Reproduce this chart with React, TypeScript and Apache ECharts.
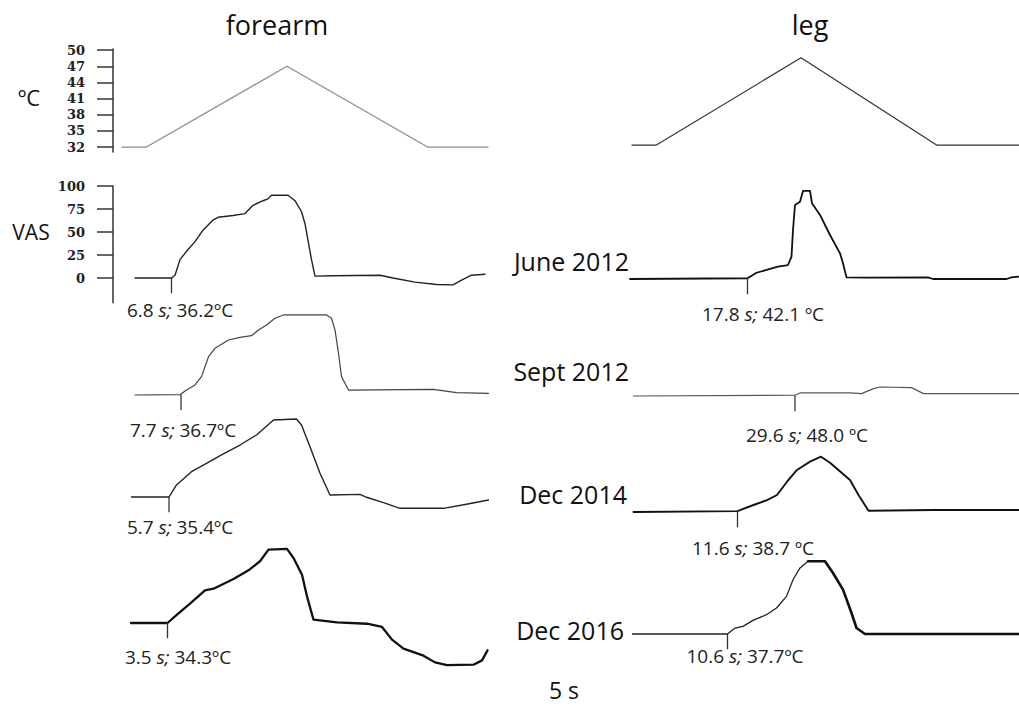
import React, { useEffect, useRef } from 'react';
import * as echarts from 'echarts';

// ---- data -------------------------------------------------------------
const sessions = ['June 2012', 'Sept 2012', 'Dec 2014', 'Dec 2016'];

// Thermode protocol (time in s from ramp onset, temperature in ºC)
const forearmTempTime = [-4.8, 0, 28.2, 56.4, 68.4];
const forearmTempValue = [32, 32, 47, 32, 32];
const legTempTime = [-4.8, 0, 29.0, 56.2, 72.6];
const legTempValue = [32, 32, 48.2, 32, 32];

const tempTicks = [32, 35, 38, 41, 44, 47, 50];
const vasTicks = [0, 25, 50, 75, 100];

// Pain onset (time from ramp onset, s; temperature, ºC)
const forearmOnsetTime = [6.8, 7.7, 5.7, 3.5];
const forearmOnsetTemp = [36.2, 36.7, 35.4, 34.3];
const legOnsetTime = [17.8, 29.6, 11.6, 10.6];
const legOnsetTemp = [42.1, 48.0, 38.7, 37.7];
const legUnitGap = [' ', ' ', ' ', ''];

// VAS ratings, forearm
const forearmJuneT = [-0.5, 6.8, 7.5, 8.5, 9.8, 11.5, 13.1, 15.1, 16.1, 19.1, 21.5, 23.1, 25.1, 26.1, 26.8, 30.1, 31.5, 32.8, 33.5, 34.1, 34.8, 35.5, 39.1, 48.5, 51.1, 55.5, 59.8, 63.1, 65.1, 66.8, 69.5];
const forearmJuneV = [0, 0, 3, 20, 29, 39.5, 52, 63, 66, 68, 70, 79, 84, 86, 90, 90, 84, 72, 59, 41, 20, 2, 2.5, 3, 0, -4.5, -7, -7.5, -1.5, 3, 4];
const forearmSeptT = [-1.5, 7.5, 7.7, 8.8, 10.5, 11.8, 13.2, 14.5, 17.2, 19.5, 21.8, 23.2, 24.8, 26.5, 28.2, 36.8, 37.8, 38.5, 39.2, 39.8, 41.2, 58.2, 62.8, 69.2];
const forearmSeptV = [0, 0.5, 1, 5.4, 10.9, 20, 41.6, 50.8, 59.8, 62.7, 64.5, 70.7, 76, 83.4, 87, 87, 83.4, 70.7, 45.3, 20, 5.4, 6.2, 2.5, 1.8];
const forearmDec14T = [-1.8, 5.7, 7.2, 10.2, 13.2, 16.2, 19.9, 23.2, 26.6, 31.2, 32.2, 33.9, 35.9, 37.9, 43.9, 45.2, 48.6, 51.9, 60.6, 65.2, 69.6];
const forearmDec14V = [0, 0, 13.1, 27.5, 36.6, 45.7, 56.5, 67.4, 83.7, 84.8, 78.3, 54.7, 25.8, 2.2, 2.9, -0.3, -6.2, -12.3, -12.3, -7.9, -3.3];
const forearmDec16T = [-3.8, 3.5, 5.4, 8.0, 11.0, 12.7, 16.7, 19.7, 22.0, 23.7, 27.4, 28.7, 30.4, 31.4, 32.7, 37.4, 43.4, 46.4, 48.4, 50.7, 54.7, 57.0, 59.4, 64.7, 66.4, 67.5];
const forearmDec16V = [0, 0, 9, 21, 35.5, 37.3, 47.9, 57.3, 67.1, 79.7, 80.5, 70.7, 52.5, 28.9, 3.6, 0.7, -0.8, -4.3, -18.1, -27.9, -35.5, -42.8, -45.7, -45.3, -40.6, -29.7];

// VAS ratings, leg
const legJuneT = [-5.7, 17.8, 19.6, 21.6, 23.9, 25.9, 26.6, 26.9, 27.3, 28.3, 28.9, 30.3, 30.7, 32.3, 34.3, 36.3, 36.9, 37.6, 41.6, 53.9, 54.9, 69.6, 70.6, 72.0];
const legJuneV = [0, 0.8, 6.8, 9.8, 13.4, 15.2, 24.3, 53.3, 80.4, 84, 95.7, 95.7, 82.3, 69.6, 47.8, 27.9, 17.1, 1.8, 1.4, 1.8, 0, 0, 1.8, 2.5];
const legSeptT = [-2.7, 29.6, 30.6, 40.6, 42.9, 45.3, 46.6, 52.9, 55.3, 74.4];
const legSeptV = [0, 0.8, 3.3, 3.3, 2.6, 8, 9.8, 9.1, 2.6, 2.6];
const legDec14T = [-9.2, 11.6, 14.8, 17.5, 19.5, 21.5, 23.5, 26.1, 28.3, 30.1, 34.1, 35.8, 37.8, 50.8, 67.9];
const legDec14V = [0, 1, 7.6, 13, 18.5, 32.9, 45.7, 54.7, 60.1, 53.6, 34.8, 18.5, 1.4, 2.2, 2.2];
const legDec16T = [-8.4, 10.6, 12.1, 13.7, 15.7, 18.4, 20.4, 22.4, 23.7, 25.1, 26.7, 30.1, 31.7, 33.7, 35.4, 36.4, 38.1, 68.9];
const legDec16V = [0, 0, 6.5, 8.3, 14.8, 21, 28.3, 40.9, 59, 71.8, 79, 79, 66.3, 48.2, 22.8, 6.5, 0, 0];

// ---- layout -----------------------------------------------------------
const W = 1019;
const H = 706;
const FONT = '"Open Sans", "Noto Sans", sans-serif';
const PX_PER_S = 5;
const PX_PER_VAS = 0.92;
const TICK_DROP = 16; // VAS units below the trace for the onset marker

const COLS = {
  forearm: { left: 113, width: 377 },
  leg: { left: 630, width: 389 },
};
const forearmAxisStart = [-4.9, -5.9, -5.5, -7.4];
const legAxisStart = [-5.7, -3.4, -9.9, -8.9];
const forearmBaseline = [278, 395, 497, 623];
const legBaseline = [279, 396, 512, 634];

const forearmTraceStyle = [
  { color: '#222', width: 1.4 },
  { color: '#444', width: 1.2 },
  { color: '#222', width: 1.4 },
  { color: '#111', width: 2.3 },
];
const legTraceStyle = [
  { color: '#111', width: 1.8 },
  { color: '#555', width: 1.2 },
  { color: '#111', width: 1.9 },
  { color: '#222', width: 1.3 },
];

const forearmLabelPos = [[180, 310], [183, 430], [180, 527], [178, 657]];
const legLabelPos = [[763, 314], [807, 435], [753, 548], [745, 656]];
const sessionLabelPos = [[629, 261], [629, 371], [627, 494], [624, 630]];

const zip = (t: number[], v: number[]) => t.map((x, i) => [x, v[i]]);

function buildOption() {
  const grid: any[] = [];
  const xAxis: any[] = [];
  const yAxis: any[] = [];
  const series: any[] = [];
  const graphic: any[] = [];

  const panel = (
    left: number, width: number, top: number, height: number,
    xMin: number, yMin: number, yMax: number, yExtra: any = {}
  ) => {
    const i = grid.length;
    grid.push({ left, top, width, height, show: false });
    xAxis.push({ type: 'value', gridIndex: i, min: xMin, max: xMin + width / PX_PER_S, show: false });
    yAxis.push({
      type: 'value', gridIndex: i, min: yMin, max: yMax, show: false,
      splitLine: { show: false }, ...yExtra,
    });
    return i;
  };

  const line = (i: number, data: number[][], style: any, z = 2) => {
    series.push({
      type: 'line', xAxisIndex: i, yAxisIndex: i, data, symbol: 'none',
      silent: true, clip: false, z,
      lineStyle: { color: style.color, width: style.width, join: 'round', cap: 'round' },
    });
  };

  // y axis drawn at the left edge of its panel
  const visibleAxis = (ticks: number[]) => ({
    show: true,
    position: 'left',
    axisLine: { show: true, onZero: false, lineStyle: { color: '#333', width: 1.5 } },
    axisTick: { show: true, length: 16, customValues: ticks, lineStyle: { color: '#333', width: 1.5 } },
    axisLabel: {
      show: true, customValues: ticks, margin: 28, color: '#222',
      fontFamily: '"DejaVu Serif", serif', fontWeight: 'bold', fontSize: 13,
    },
  });

  // temperature panels
  const tf = panel(COLS.forearm.left, COLS.forearm.width, 49, 103, -6.6, 31.1, 50.2, visibleAxis(tempTicks));
  line(tf, zip(forearmTempTime, forearmTempValue), { color: '#8a8a8a', width: 1.2 });
  const tl = panel(COLS.leg.left, COLS.leg.width, 47, 103, -5.2, 31.1, 50.2);
  line(tl, zip(legTempTime, legTempValue), { color: '#333', width: 1.2 });

  // VAS panels
  const forearmT = [forearmJuneT, forearmSeptT, forearmDec14T, forearmDec16T];
  const forearmV = [forearmJuneV, forearmSeptV, forearmDec14V, forearmDec16V];
  const legT = [legJuneT, legSeptT, legDec14T, legDec16T];
  const legV = [legJuneV, legSeptV, legDec14V, legDec16V];

  const rich = { i: { fontStyle: 'italic', fontSize: 19, fontFamily: FONT, fill: '#222' } };
  const addLabel = (x: number, y: number, text: string) => {
    graphic.push({
      type: 'text', x, y, silent: true,
      style: {
        text, rich, fill: '#222', fontSize: 19, fontFamily: FONT,
        align: 'center', verticalAlign: 'middle', textAlign: 'center', textVerticalAlign: 'middle',
      },
    });
  };

  for (let r = 0; r < 4; r++) {
    // forearm
    const fb = forearmBaseline[r];
    const fMin = r === 0 ? -27 : -50;
    const fi = panel(
      COLS.forearm.left, COLS.forearm.width, fb - 100 * PX_PER_VAS, (100 - fMin) * PX_PER_VAS,
      forearmAxisStart[r], fMin, 100, r === 0 ? visibleAxis(vasTicks) : {}
    );
    line(fi, zip(forearmT[r], forearmV[r]), forearmTraceStyle[r]);
    const ft = forearmOnsetTime[r];
    line(fi, [[ft, 0], [ft, -TICK_DROP]], { color: '#333', width: 1.3 });
    addLabel(forearmLabelPos[r][0], forearmLabelPos[r][1],
      `${ft.toFixed(1)} {i|s;} ${forearmOnsetTemp[r].toFixed(1)}ºC`);

    // leg
    const lb = legBaseline[r];
    const li = panel(
      COLS.leg.left, COLS.leg.width, lb - 100 * PX_PER_VAS, 150 * PX_PER_VAS,
      legAxisStart[r], -50, 100
    );
    const pts = zip(legT[r], legV[r]);
    if (r === 3) {
      // last session: rise drawn thin, descent and tail drawn heavy
      line(li, pts.slice(0, 11), legTraceStyle[r]);
      line(li, pts.slice(10), { color: '#111', width: 2.6 });
    } else {
      line(li, pts, legTraceStyle[r]);
    }
    const lt = legOnsetTime[r];
    line(li, [[lt, 0], [lt, -TICK_DROP]], { color: '#333', width: 1.3 });
    addLabel(legLabelPos[r][0], legLabelPos[r][1],
      `${lt.toFixed(1)} {i|s;} ${legOnsetTemp[r].toFixed(1)}${legUnitGap[r]}ºC`);

    graphic.push({
      type: 'text', x: sessionLabelPos[r][0], y: sessionLabelPos[r][1], silent: true,
      style: {
        text: sessions[r], fill: '#111', fontSize: 25, fontFamily: FONT,
        align: 'right', verticalAlign: 'middle', textAlign: 'right', textVerticalAlign: 'middle',
      },
    });
  }

  const plain = (text: string, x: number, y: number, size: number) => ({
    type: 'text', x, y, silent: true,
    style: {
      text, fill: '#111', fontSize: size, fontFamily: FONT,
      align: 'center', verticalAlign: 'middle', textAlign: 'center', textVerticalAlign: 'middle',
    },
  });
  graphic.push(plain('forearm', 277, 24, 27));
  graphic.push(plain('leg', 810, 24, 27));
  graphic.push(plain('ºC', 29, 97, 22));
  graphic.push(plain('VAS', 31, 232, 21));
  graphic.push(plain('5 s', 564, 690, 23));

  return {
    animation: false,
    backgroundColor: '#ffffff',
    grid, xAxis, yAxis, series, graphic,
  };
}

export default function App() {
  const ref = useRef<HTMLDivElement>(null);
  useEffect(() => {
    if (!ref.current) return;
    const chart = echarts.init(ref.current, null, { renderer: 'svg' });
    chart.setOption(buildOption() as any);
    return () => chart.dispose();
  }, []);
  return (
    <div
      ref={ref}
      style={{ position: 'fixed', left: 0, top: 0, width: W, height: H, background: '#fff' }}
    />
  );
}
